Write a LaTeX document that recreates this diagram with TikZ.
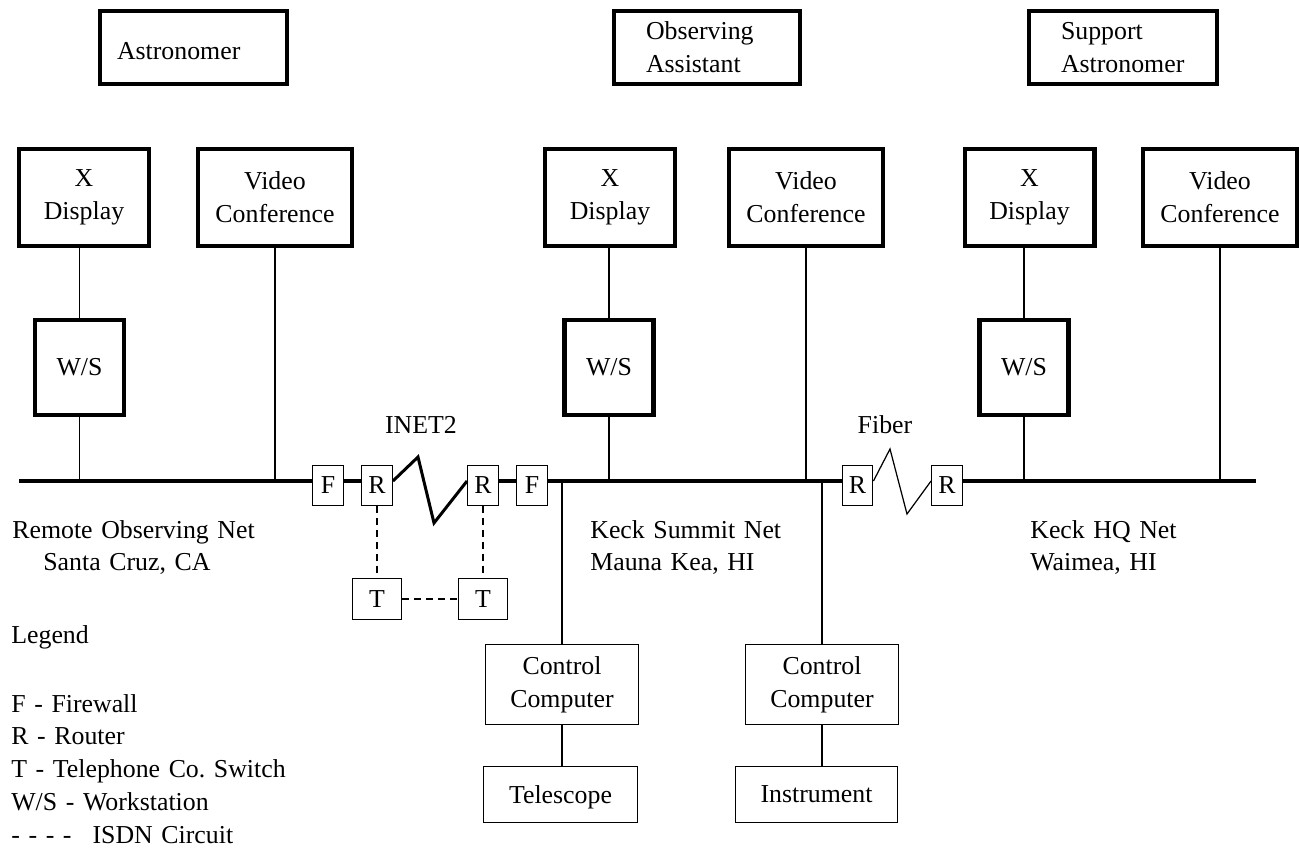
\documentclass[tikz,border=0pt]{standalone}
\usepackage{fontspec}
\setmainfont{Liberation Serif}
\usepackage{tikz}
\usetikzlibrary{positioning}
\tikzstyle{heavy-rect} = [rectangle, draw=black, line width=2.3pt, align=center, inner sep=0pt]
\tikzstyle{person-rect} = [rectangle, draw=black, line width=2.3pt, align=left, minimum height=1.46cm]
\tikzstyle{simple-rect} = [rectangle, draw=black, line width=0.8pt, align=center, inner sep=0pt]
\tikzstyle{tiny-rect} = [simple-rect, minimum width=0.61cm, minimum height=0.79cm]
\tikzstyle{bus} = [line width=2.3pt]
\tikzstyle{wire} = [line width=0.7pt]
\tikzstyle{isdn} = [line width=0.6pt, dash pattern=on 4pt off 2.8pt]
\tikzstyle{caption} = [anchor=base west, inner sep=0pt, align=left]

\begin{document}
\begin{tikzpicture}[x=0.02cm, y=-0.02cm, font=\fontsize{14.7pt}{18.7pt}\selectfont]
        \useasboundingbox (0,0) rectangle (1299,852);

        \node [person-rect, text width=3.06cm, inner xsep=0.34cm, text height=0.5cm, text depth=0pt] (astronomer) at (193.5,47.5) {Astronomer};
        \node [person-rect, text width=2.44cm, inner xsep=0.64cm] (assistant) at (707,47.5) {Observing\\Assistant};
        \node [person-rect, text width=2.48cm, inner xsep=0.64cm] (support) at (1123,47.5) {Support\\Astronomer};

        \node [heavy-rect, minimum width=2.6cm, minimum height=1.94cm] (xd1) at (84,197.5) {X\\Display};
        \node [heavy-rect, minimum width=3.08cm, minimum height=1.94cm] (vc1) at (275,197.5) {Video\\Conference};
        \node [heavy-rect, minimum width=2.6cm, minimum height=1.94cm] (xd2) at (610,197.5) {X\\Display};
        \node [heavy-rect, minimum width=3.08cm, minimum height=1.94cm] (vc2) at (806,197.5) {Video\\Conference};
        \node [heavy-rect, minimum width=2.6cm, minimum height=1.94cm] (xd3) at (1029.5,197.5) {X\\Display};
        \node [heavy-rect, minimum width=3.08cm, minimum height=1.94cm] (vc3) at (1220,197.5) {Video\\Conference};

        \node [heavy-rect, minimum width=1.78cm, minimum height=1.9cm] (ws1) at (79.5,367.5) {W/S};
        \node [heavy-rect, minimum width=1.78cm, minimum height=1.9cm] (ws2) at (609,367.5) {W/S};
        \node [heavy-rect, minimum width=1.78cm, minimum height=1.9cm] (ws3) at (1024,367.5) {W/S};

        \node [tiny-rect] (f1) at (328,485.5) {F};
        \node [tiny-rect] (r1) at (377,485.5) {R};
        \node [tiny-rect] (r2) at (483,485.5) {R};
        \node [tiny-rect] (f2) at (532,485.5) {F};
        \node [tiny-rect] (r3) at (857.5,485.5) {R};
        \node [tiny-rect] (r4) at (947,485.5) {R};

        \node [simple-rect, minimum width=0.97cm, minimum height=0.81cm] (t1) at (377,599) {T};
        \node [simple-rect, minimum width=0.97cm, minimum height=0.81cm] (t2) at (483,599) {T};

        \node [simple-rect, minimum width=3.07cm, minimum height=1.59cm] (cc1) at (562,684.5) {Control\\Computer};
        \node [simple-rect, minimum width=3.07cm, minimum height=1.11cm, text depth=0pt] (telescope) at (560.5,794.5) {Telescope};
        \node [simple-rect, minimum width=3.07cm, minimum height=1.59cm] (cc2) at (822,684.5) {Control\\Computer};
        \node [simple-rect, minimum width=3.23cm, minimum height=1.11cm, text depth=0pt] (instrument) at (816.5,794.5) {Instrument};

        \node [anchor=base, inner sep=0pt] (inet-label) at (421,433) {INET2};
        \node [anchor=base, inner sep=0pt] (fiber-label) at (885,433) {Fiber};

        \node [caption, text width=6cm] (remote-net) at (12,538) {Remote Observing Net\\\hspace*{0.62cm}Santa Cruz, CA};
        \node [caption, text width=5cm] (summit-net) at (590,538) {Keck Summit Net\\Mauna Kea, HI};
        \node [caption, text width=5cm] (hq-net) at (1030,538) {Keck HQ Net\\Waimea, HI};

        \node [caption] (legend) at (11,643) {Legend};
        \node [caption, text width=6cm] (legend-items) at (11,712) {F - Firewall\\R - Router\\T - Telephone Co.\ Switch\\W/S - Workstation\\- - - -\hspace{0.42cm}ISDN Circuit};

        \coordinate (bus-w) at (19,481);
        \coordinate (bus-e) at (1256,481);
        \coordinate (inet-a) at (418,457);
        \coordinate (inet-b) at (434,523);
        \coordinate (fiber-a) at (890,449);
        \coordinate (fiber-b) at (907,514);

        \draw [bus] (bus-w) -- (bus-w -| f1.west);
        \draw [bus] (f1.east |- bus-w) -- (r1.west |- bus-w);
        \draw [bus] (r2.east |- bus-w) -- (f2.west |- bus-w);
        \draw [bus] (f2.east |- bus-w) -- (r3.west |- bus-w);
        \draw [bus] (r4.east |- bus-w) -- (bus-e);
        \draw [line width=1.7pt] (r1.east |- bus-w) -- (inet-a) -- (inet-b) -- (r2.west |- bus-w);
        \draw [wire] (r3.east |- bus-w) -- (fiber-a) -- (fiber-b) -- (r4.west |- bus-w);

        \draw [wire] (ws1.north) -- (ws1.north |- xd1.south);
        \draw [wire] (ws2.north) -- (ws2.north |- xd2.south);
        \draw [wire] (ws3.north) -- (ws3.north |- xd3.south);
        \draw [wire] (ws1.south) -- (ws1.south |- bus-w);
        \draw [wire] (ws2.south) -- (ws2.south |- bus-w);
        \draw [wire] (ws3.south) -- (ws3.south |- bus-w);
        \draw [wire] (vc1.south) -- (vc1.south |- bus-w);
        \draw [wire] (vc2.south) -- (vc2.south |- bus-w);
        \draw [wire] (vc3.south) -- (vc3.south |- bus-w);

        \draw [wire] (cc1.north) -- (cc1.north |- bus-w);
        \draw [wire] (cc2.north) -- (cc2.north |- bus-w);
        \draw [wire] (cc1.south) -- (cc1.south |- telescope.north);
        \draw [wire] (cc2.south) -- (cc2.south |- instrument.north);

        \draw [isdn] (r1.south) -- (t1.north);
        \draw [isdn] (r2.south) -- (t2.north);
        \draw [isdn] (t1.east) -- (t2.west);
\end{tikzpicture}
\end{document}
